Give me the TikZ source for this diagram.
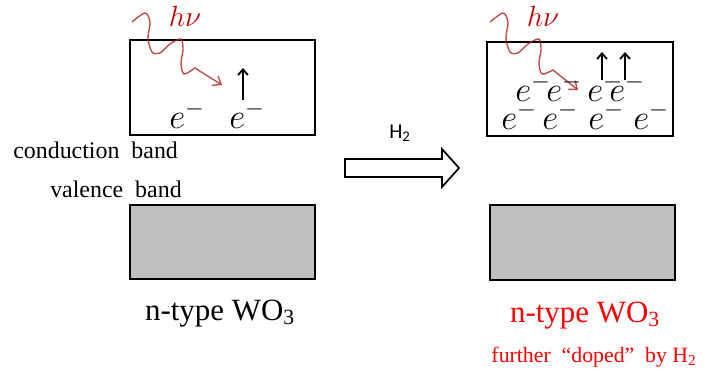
\documentclass[tikz,border=0pt]{standalone}
\usepackage{fontspec}
\setmainfont{Liberation Serif}
\newfontfamily\sansf{Carlito}
\usepackage{tikz}
\usetikzlibrary{arrows.meta,positioning,calc}
\definecolor{hvred}{RGB}{192,0,0}
\definecolor{wavered}{RGB}{175,35,35}
\definecolor{bandgray}{RGB}{191,191,191}

\begin{document}
\begin{tikzpicture}[>=Stealth,x=0.025cm,y=-0.025cm]
\tikzstyle{band}=[draw,line width=1.3pt]
\tikzstyle{el}=[inner sep=0,anchor=base west,font=\fontsize{23}{26}\selectfont]
\tikzstyle{lbl}=[inner sep=0,anchor=base west,font=\fontsize{17}{20}\selectfont]
\tikzstyle{up}=[-{Straight Barb[length=4pt,width=7pt]},line width=1.3pt]
\tikzstyle{wave}=[wavered,line width=1pt,opacity=0.8,-{Straight Barb[length=5pt,width=8pt]}]
\tikzstyle{hv}=[hvred,inner sep=0,font=\fontsize{22}{25}\selectfont]
\useasboundingbox (0,0) rectangle (708,378);

% left: n-type WO3
\draw[band] (130,40) rectangle (315,135);
\draw[band,fill=bandgray] (130,205) rectangle (315,279);
\node[hv] (hvl) at (185,16) {$h\nu$};
\draw[wave] plot[smooth] coordinates {(132,22) (145,13) (150,22) (148,38) (152,52) (160,53) (170,44) (181,39) (183,50) (181,63) (184,74) (195,68)} -- (222,85);
\node[el] (e1) at (169,128) {$e^-$};
\node[el] (e2) at (229,128) {$e^-$};
\draw[up] (e2.base west) ++(14,-28) -- ++(0,-32);

% labels
\node[lbl] (cb) at (13,158) {conduction\enspace band};
\node[lbl] (vb) at (50,197) {valence\enspace band};
\node[inner sep=0,anchor=base,font=\fontsize{22}{25}\selectfont] (wl) at (220,320) {n-type WO\textsubscript{3}};

% H2 treatment
\draw[line width=1.2pt] (345,159) -- (442,159) -- (442,149) -- (459,168) -- (442,187) -- (442,177) -- (345,177) -- cycle;
\node[inner sep=0,font=\sansf\fontsize{15}{18}\selectfont] (h2) at (400,133) {H\textsubscript{2}};

% right: doped WO3
\draw[band] (487,42) rectangle (673,136);
\draw[band,fill=bandgray] (490,205) rectangle (675,280);
\node[hv] (hvr) at (543,16) {$h\nu$};
\draw[wave] plot[smooth] coordinates {(490,22) (503,13) (508,22) (506,38) (510,52) (518,53) (528,44) (539,39) (541,50) (539,63) (542,74) (553,70)} -- (578,90);
\node[el] (r1) at (501,129) {$e^-$};
\node[el] (r2) at (542,129) {$e^-$};
\node[el] (r3) at (588,129) {$e^-$};
\node[el] (r4) at (633,129) {$e^-$};
\node[el] (s1) at (515,101) {$e^-$};
\node[el] (s2) at (546,101) {$e^-$};
\node[el] (s3) at (587,101) {$e^-$};
\node[el] (s4) at (609,101) {$e^-$};
\draw[up] (s3.base west) ++(15,-21) -- ++(0,-28);
\draw[up] (s4.base west) ++(16,-21) -- ++(0,-28);
\node[inner sep=0,anchor=base,font=\fontsize{22}{25}\selectfont,red] (wr) at (585,322) {n-type WO\textsubscript{3}};
\node[inner sep=0,anchor=base,font=\fontsize{15.5}{18}\selectfont,red] (dop) at (594,362) {further\enspace “doped”\enspace by H\textsubscript{2}};
\end{tikzpicture}
\end{document}
